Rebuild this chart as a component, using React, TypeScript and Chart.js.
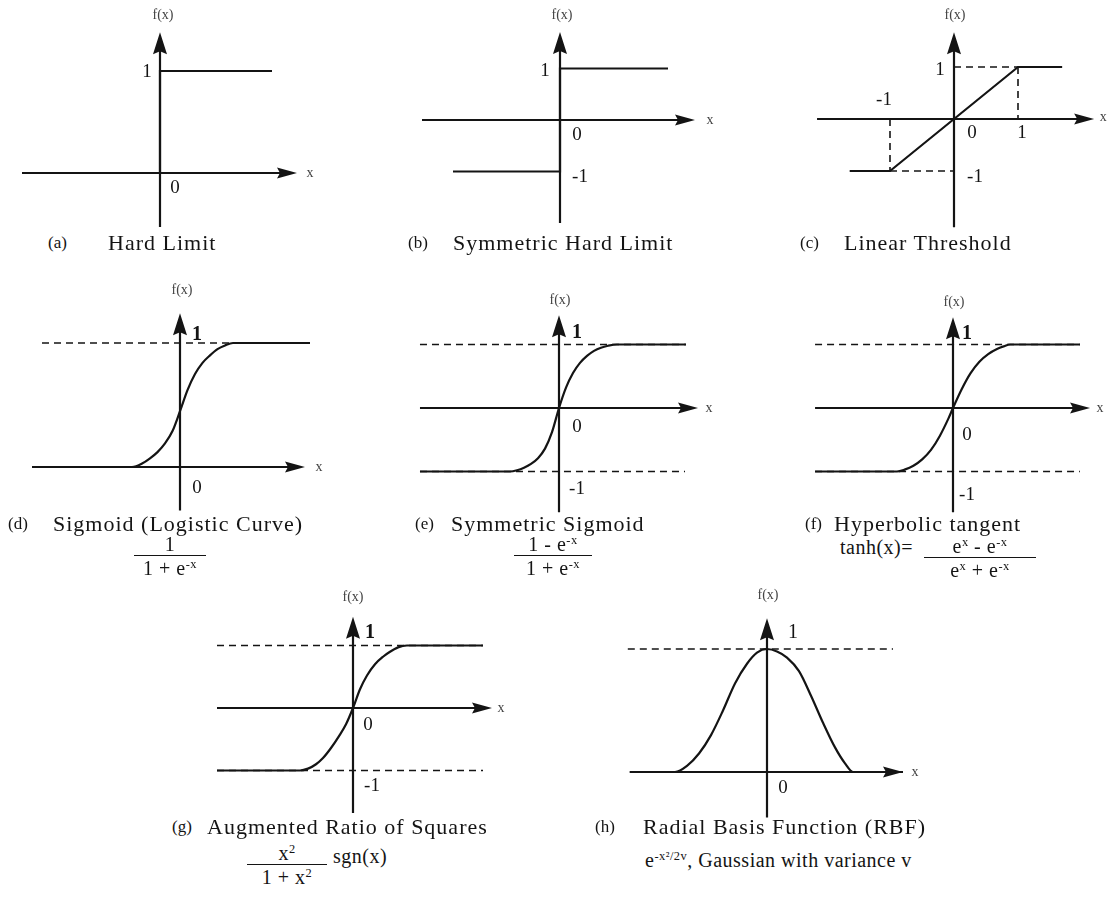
import React, { useEffect, useRef } from "react";
import { Chart, registerables } from "chart.js";

Chart.register(...registerables);

const SERIF = '"Liberation Serif", "Times New Roman", serif';
const INK = "#141414";

// ---- sampled activation curves (x, f(x)) ----
const hardLimitX = [-5.52, 0, 0, 4.48];
const hardLimitY = [0, 0, 1, 1];

const symHardLimitX = [-4.28, 0, 0, 4.32];
const symHardLimitY = [-1, -1, 1, 1];

const linearThresholdX = [-1.63, -1, 1, 1.69];
const linearThresholdY = [-1, -1, 1, 1];

const sigmoidX = [-11.84, -3.84, -3, -2.4, -1.8, -1.2, -0.6, 0, 0.6, 1.2, 1.8, 2.4, 3, 3.6, 4.24, 10.4];
const sigmoidY = [0, 0, 0.03, 0.07, 0.12, 0.19, 0.29, 0.45, 0.62, 0.75, 0.84, 0.9, 0.95, 0.98, 1, 1];

const symSigmoidX = [-9.93, -3.5, -3, -2.5, -2, -1.5, -1, -0.5, 0, 0.5, 1, 1.5, 2, 2.5, 3, 3.5, 4.14, 9.07];
const symSigmoidY = [-1, -1, -0.98, -0.94, -0.88, -0.79, -0.64, -0.38, 0, 0.32, 0.55, 0.71, 0.82, 0.9, 0.95, 0.98, 1, 1];

const tanhX = [-6.27, -2.55, -2.2, -1.8, -1.4, -1, -0.6, -0.2, 0, 0.4, 0.8, 1.2, 1.6, 2, 2.3, 2.6, 5.77];
const tanhY = [-1, -1, -0.97, -0.91, -0.81, -0.66, -0.44, -0.16, 0, 0.3, 0.55, 0.73, 0.85, 0.93, 0.97, 1, 1];

const ratioSquaresX = [-13.6, -5.3, -4.5, -3.7, -3, -2.2, -1.4, -0.7, 0, 0.7, 1.4, 2.2, 3, 3.7, 4.5, 5.4, 13];
const ratioSquaresY = [-1, -1, -0.97, -0.9, -0.8, -0.64, -0.45, -0.26, 0, 0.3, 0.52, 0.7, 0.82, 0.9, 0.97, 1, 1];

const rbfX = [-3.43, -2.3, -2, -1.7, -1.4, -1.1, -0.8, -0.5, -0.25, 0, 0.25, 0.5, 0.8, 1.1, 1.4, 1.7, 1.95, 2.15, 3.4];
const rbfY = [0, 0, 0.05, 0.15, 0.3, 0.5, 0.72, 0.88, 0.97, 1, 0.98, 0.93, 0.82, 0.62, 0.4, 0.2, 0.07, 0, 0];

// ---- dashed reference lines ----
const linearThresholdGuides = [
  { x: [0, 1], y: [1, 1] },
  { x: [1, 1], y: [1, 0] },
  { x: [-1, -1], y: [0, -1] },
  { x: [-1, 0], y: [-1, -1] },
];
const sigmoidGuides = [{ x: [-11.04, 4.24], y: [1, 1] }];
const symSigmoidGuides = [
  { x: [-9.93, 9.07], y: [1, 1] },
  { x: [-9.93, 9.0], y: [-1, -1] },
];
const tanhGuides = [
  { x: [-6.27, 5.77], y: [1, 1] },
  { x: [-6.27, 5.77], y: [-1, -1] },
];
const ratioSquaresGuides = [
  { x: [-13.6, 13], y: [1, 1] },
  { x: [-13.6, 13], y: [-1, -1] },
];
const rbfGuides = [{ x: [-3.48, 3.15], y: [1, 1] }];

type Label = { text: string; at: [number, number]; off: [number, number]; size?: number; bold?: boolean; color?: string };
type Guide = { x: number[]; y: number[] };
type PanelSpec = {
  box: [number, number, number, number];
  origin: [number, number];
  unit: [number, number];
  axisX: [number, number];
  axisY: [number, number];
  curveX: number[];
  curveY: number[];
  smooth: boolean;
  guides: Guide[];
  labels: Label[];
};

const FX = "f(x)";

const panels: PanelSpec[] = [
  {
    box: [10, 0, 330, 232], origin: [160, 173], unit: [25, 102],
    axisX: [-5.52, 5.48], axisY: [-0.53, 1.38],
    curveX: hardLimitX, curveY: hardLimitY, smooth: false, guides: [],
    labels: [
      { text: FX, at: [0, 1.38], off: [3, -17], size: 14, color: "#444" },
      { text: "1", at: [0, 1], off: [-13, 1] },
      { text: "0", at: [0, 0], off: [15, 15] },
      { text: "x", at: [5.48, 0], off: [13, 0], size: 14, color: "#444" },
    ],
  },
  {
    box: [400, 0, 330, 232], origin: [560, 120], unit: [25, 51.5],
    axisX: [-5.52, 5.4], axisY: [-2.0, 1.71],
    curveX: symHardLimitX, curveY: symHardLimitY, smooth: false, guides: [],
    labels: [
      { text: FX, at: [0, 1.71], off: [2, -17], size: 14, color: "#444" },
      { text: "1", at: [0, 1], off: [-15, 3] },
      { text: "0", at: [0, 0], off: [17, 15] },
      { text: "-1", at: [0, -1], off: [20, 6] },
      { text: "x", at: [5.4, 0], off: [15, 0], size: 14, color: "#444" },
    ],
  },
  {
    box: [790, 0, 317, 232], origin: [954, 119], unit: [64, 52],
    axisX: [-2.14, 2.19], axisY: [-2.08, 1.67],
    curveX: linearThresholdX, curveY: linearThresholdY, smooth: false, guides: linearThresholdGuides,
    labels: [
      { text: FX, at: [0, 1.67], off: [1, -17], size: 14, color: "#444" },
      { text: "1", at: [0, 1], off: [-14, 3] },
      { text: "-1", at: [-1, 0], off: [-6, -19] },
      { text: "0", at: [0, 0], off: [18, 14] },
      { text: "1", at: [1, 0], off: [4, 14] },
      { text: "-1", at: [0, -1], off: [21, 6] },
      { text: "x", at: [2.19, 0], off: [9, -2], size: 14, color: "#444" },
    ],
  },
  {
    box: [20, 280, 320, 236], origin: [180, 467], unit: [12.5, 124],
    axisX: [-11.84, 10.0], axisY: [-0.35, 1.24],
    curveX: sigmoidX, curveY: sigmoidY, smooth: true, guides: sigmoidGuides,
    labels: [
      { text: FX, at: [0, 1.24], off: [2, -23], size: 14, color: "#444" },
      { text: "1", at: [0, 1], off: [17, -8], size: 20, bold: true },
      { text: "0", at: [0, 0], off: [17, 21] },
      { text: "x", at: [10.0, 0], off: [14, 0], size: 14, color: "#444" },
    ],
  },
  {
    box: [405, 280, 320, 236], origin: [559, 408], unit: [14, 63.5],
    axisX: [-9.93, 9.93], axisY: [-1.64, 1.46],
    curveX: symSigmoidX, curveY: symSigmoidY, smooth: true, guides: symSigmoidGuides,
    labels: [
      { text: FX, at: [0, 1.46], off: [1, -15], size: 14, color: "#444" },
      { text: "1", at: [0, 1], off: [18, -12], size: 20, bold: true },
      { text: "0", at: [0, 0], off: [18, 19] },
      { text: "-1", at: [0, -1], off: [18, 18] },
      { text: "x", at: [9.93, 0], off: [11, 0], size: 14, color: "#444" },
    ],
  },
  {
    box: [800, 280, 307, 236], origin: [953, 408], unit: [22, 63.5],
    axisX: [-6.27, 6.23], axisY: [-1.64, 1.43],
    curveX: tanhX, curveY: tanhY, smooth: true, guides: tanhGuides,
    labels: [
      { text: FX, at: [0, 1.43], off: [1, -15], size: 14, color: "#444" },
      { text: "1", at: [0, 1], off: [14, -11], size: 20, bold: true },
      { text: "0", at: [0, 0], off: [14, 27] },
      { text: "-1", at: [0, -1], off: [14, 24] },
      { text: "x", at: [6.23, 0], off: [10, 0], size: 14, color: "#444" },
    ],
  },
  {
    box: [205, 580, 320, 238], origin: [353, 708], unit: [10, 62.5],
    axisX: [-13.6, 13.9], axisY: [-1.68, 1.46],
    curveX: ratioSquaresX, curveY: ratioSquaresY, smooth: true, guides: ratioSquaresGuides,
    labels: [
      { text: FX, at: [0, 1.46], off: [0, -19], size: 14, color: "#444" },
      { text: "1", at: [0, 1], off: [17, -13], size: 20, bold: true },
      { text: "0", at: [0, 0], off: [15, 17] },
      { text: "-1", at: [0, -1], off: [19, 16] },
      { text: "x", at: [13.9, 0], off: [9, 0], size: 14, color: "#444" },
    ],
  },
  {
    box: [615, 578, 320, 242], origin: [767, 772], unit: [40, 123],
    axisX: [-3.43, 3.4], axisY: [-0.37, 1.25],
    curveX: rbfX, curveY: rbfY, smooth: true, guides: rbfGuides,
    labels: [
      { text: FX, at: [0, 1.25], off: [1, -23], size: 14, color: "#444" },
      { text: "1", at: [0, 1], off: [26, -16], size: 20 },
      { text: "0", at: [0, 0], off: [16, 16] },
      { text: "x", at: [3.4, 0], off: [12, 0], size: 14, color: "#444" },
    ],
  },
];

function axesPlugin(spec: PanelSpec) {
  return {
    id: "axesAndLabels",
    beforeDatasetsDraw(chart: any) {
      const { ctx } = chart;
      const sx = chart.scales.x;
      const sy = chart.scales.y;
      const x0 = sx.getPixelForValue(0);
      const y0 = sy.getPixelForValue(0);
      const xl = sx.getPixelForValue(spec.axisX[0]);
      const xr = sx.getPixelForValue(spec.axisX[1]);
      const yb = sy.getPixelForValue(spec.axisY[0]);
      const yt = sy.getPixelForValue(spec.axisY[1]);
      ctx.save();
      ctx.strokeStyle = INK;
      ctx.fillStyle = INK;
      ctx.lineWidth = 2.2;
      ctx.beginPath();
      ctx.moveTo(xl, y0);
      ctx.lineTo(xr - 10, y0);
      ctx.moveTo(x0, yb);
      ctx.lineTo(x0, yt + 10);
      ctx.stroke();
      // arrowhead on the x axis
      ctx.beginPath();
      ctx.moveTo(xr, y0);
      ctx.lineTo(xr - 20, y0 - 5.5);
      ctx.lineTo(xr - 17, y0);
      ctx.lineTo(xr - 20, y0 + 5.5);
      ctx.closePath();
      ctx.fill();
      // arrowhead on the f(x) axis
      ctx.beginPath();
      ctx.moveTo(x0, yt);
      ctx.lineTo(x0 - 7, yt + 22);
      ctx.lineTo(x0, yt + 19);
      ctx.lineTo(x0 + 7, yt + 22);
      ctx.closePath();
      ctx.fill();
      ctx.restore();
    },
    afterDatasetsDraw(chart: any) {
      const { ctx } = chart;
      const sx = chart.scales.x;
      const sy = chart.scales.y;
      ctx.save();
      ctx.textAlign = "center";
      ctx.textBaseline = "middle";
      for (const l of spec.labels) {
        const size = l.size ?? 19;
        ctx.font = `${l.bold ? "bold " : ""}${size}px ${SERIF}`;
        ctx.fillStyle = l.color ?? INK;
        ctx.fillText(l.text, sx.getPixelForValue(l.at[0]) + l.off[0], sy.getPixelForValue(l.at[1]) + l.off[1]);
      }
      ctx.restore();
    },
  };
}

function Panel({ spec }: { spec: PanelSpec }) {
  const ref = useRef<HTMLCanvasElement>(null);
  const [L, T, W, H] = spec.box;
  useEffect(() => {
    const [ox, oy] = spec.origin;
    const [ux, uy] = spec.unit;
    const datasets: any[] = spec.guides.map((g) => ({
      data: g.x.map((x, i) => ({ x, y: g.y[i] })),
      borderColor: INK,
      borderWidth: 1.6,
      borderDash: [7, 5],
      pointRadius: 0,
      fill: false,
      tension: 0,
    }));
    datasets.push({
      data: spec.curveX.map((x, i) => ({ x, y: spec.curveY[i] })),
      borderColor: INK,
      borderWidth: 2.2,
      pointRadius: 0,
      fill: false,
      tension: 0,
      cubicInterpolationMode: spec.smooth ? "monotone" : "default",
    });
    const chart = new Chart(ref.current as HTMLCanvasElement, {
      type: "line",
      data: { datasets },
      options: {
        responsive: false,
        animation: false,
        events: [],
        layout: { padding: 0 },
        plugins: { legend: { display: false }, tooltip: { enabled: false } },
        scales: {
          x: { type: "linear", display: false, min: (L - ox) / ux, max: (L + W - ox) / ux },
          y: { type: "linear", display: false, min: (oy - T - H) / uy, max: (oy - T) / uy },
        },
      } as any,
      plugins: [axesPlugin(spec)],
    });
    return () => chart.destroy();
  }, [spec]);
  return (
    <canvas
      ref={ref}
      width={W}
      height={H}
      style={{ position: "absolute", left: L, top: T, width: W, height: H }}
    />
  );
}

const captions = [
  { tag: "(a)", title: "Hard Limit", tagX: 48, titleX: 108, y: 243 },
  { tag: "(b)", title: "Symmetric Hard Limit", tagX: 408, titleX: 453, y: 243 },
  { tag: "(c)", title: "Linear Threshold", tagX: 800, titleX: 844, y: 243 },
  { tag: "(d)", title: "Sigmoid (Logistic Curve)", tagX: 8, titleX: 53, y: 524 },
  { tag: "(e)", title: "Symmetric Sigmoid", tagX: 415, titleX: 451, y: 524 },
  { tag: "(f)", title: "Hyperbolic tangent", tagX: 805, titleX: 834, y: 524 },
  { tag: "(g)", title: "Augmented Ratio of Squares", tagX: 172, titleX: 207, y: 827 },
  { tag: "(h)", title: "Radial Basis Function (RBF)", tagX: 595, titleX: 643, y: 827 },
];

function Sup({ children }: { children: React.ReactNode }) {
  return <span style={{ fontSize: "0.62em", position: "relative", top: "-0.6em" }}>{children}</span>;
}

function Fraction({ cx, lineY, width, num, den, size = 20 }: { cx: number; lineY: number; width: number; num: React.ReactNode; den: React.ReactNode; size?: number }) {
  const common: React.CSSProperties = {
    position: "absolute",
    left: cx - width / 2,
    width,
    textAlign: "center",
    fontSize: size,
    lineHeight: `${size}px`,
    letterSpacing: 0.5,
    whiteSpace: "nowrap",
  };
  return (
    <>
      <div style={{ ...common, top: lineY - size - 1 }}>{num}</div>
      <div style={{ position: "absolute", left: cx - width / 2, width, top: lineY, borderTop: `1.5px solid ${INK}` }} />
      <div style={{ ...common, top: lineY + 3 }}>{den}</div>
    </>
  );
}

function Text({ x, y, size = 20, children }: { x: number; y: number; size?: number; children: React.ReactNode }) {
  return (
    <div
      style={{
        position: "absolute",
        left: x,
        top: y - size / 2,
        fontSize: size,
        lineHeight: `${size}px`,
        letterSpacing: 0.5,
        whiteSpace: "nowrap",
      }}
    >
      {children}
    </div>
  );
}

export default function App() {
  return (
    <div
      style={{
        position: "absolute",
        left: 0,
        top: 0,
        width: 1107,
        height: 897,
        background: "#fff",
        overflow: "hidden",
        fontFamily: SERIF,
        color: INK,
      }}
    >
      {panels.map((p, i) => (
        <Panel key={i} spec={p} />
      ))}
      {captions.map((c) => (
        <React.Fragment key={c.tag}>
          <div style={{ position: "absolute", left: c.tagX, top: c.y - 9, fontSize: 17, lineHeight: "18px" }}>{c.tag}</div>
          <div style={{ position: "absolute", left: c.titleX, top: c.y - 12, fontSize: 22, lineHeight: "24px", letterSpacing: 1, whiteSpace: "nowrap" }}>
            {c.title}
          </div>
        </React.Fragment>
      ))}

      <Fraction cx={170} lineY={555} width={72} num="1" den={<>1 + e<Sup>-x</Sup></>} />
      <Fraction cx={553} lineY={555} width={78} num={<>1 - e<Sup>-x</Sup></>} den={<>1 + e<Sup>-x</Sup></>} />
      <Text x={840} y={547}>tanh(x)=</Text>
      <Fraction cx={980} lineY={557} width={112} num={<>e<Sup>x</Sup> - e<Sup>-x</Sup></>} den={<>e<Sup>x</Sup> + e<Sup>-x</Sup></>} />
      <Fraction cx={287} lineY={864} width={80} num={<>x<Sup>2</Sup></>} den={<>1 + x<Sup>2</Sup></>} />
      <Text x={333} y={856}>sgn(x)</Text>
      <Text x={645} y={860}>
        e<Sup>-x²/2v</Sup>, Gaussian with variance v
      </Text>
    </div>
  );
}
